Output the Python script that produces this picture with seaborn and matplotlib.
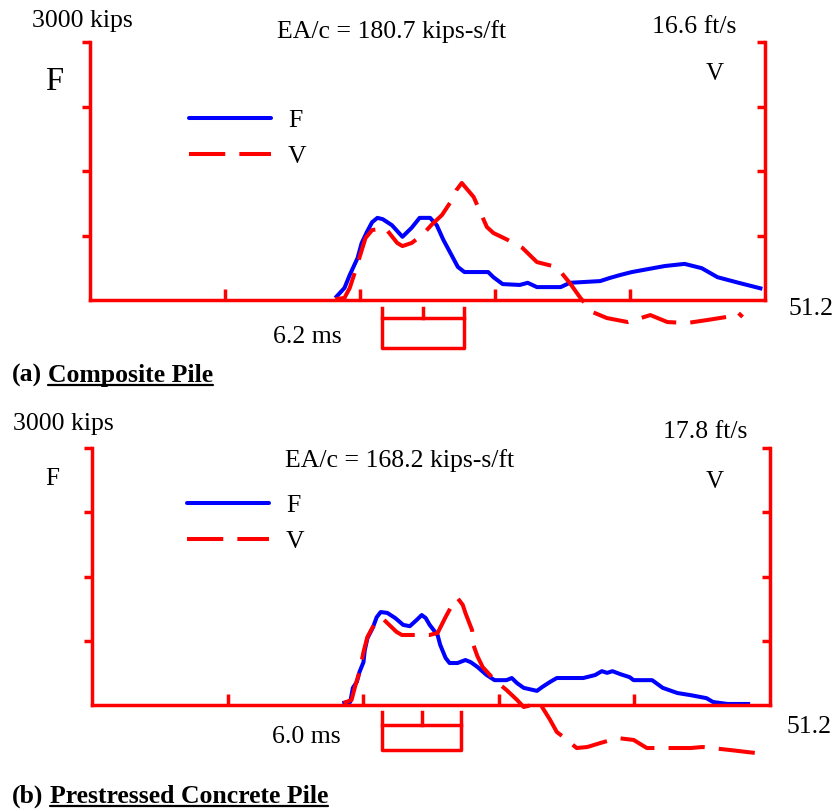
import matplotlib
matplotlib.use("Agg")
import matplotlib.pyplot as plt
import seaborn as sns
from matplotlib.lines import Line2D

# ---------------- data ----------------
T_END = 51.2                      # ms, full record length
F_TOP = 3000                      # kips, force axis top
x_tick_times = [10.24, 20.48, 30.72, 40.96]
f_tick_values = [750, 1500, 2250, 3000]

# (a) Composite pile
t_F_a = [18.6, 19.3, 19.7, 20.3, 20.6, 21.0, 21.4, 21.8, 22.2, 22.9, 23.7, 24.4, 25.0,
         25.8, 26.3, 26.8, 27.5, 27.9, 28.4, 30.2, 30.6, 31.3, 32.6, 33.2, 33.9, 35.7,
         36.4, 38.7, 39.4, 40.2, 41.1, 43.6, 45.1, 46.4, 47.6, 49.2, 51.0]
F_a = [23, 140, 290, 490, 660, 790, 905, 955, 940, 870, 735, 840, 955,
       955, 870, 700, 500, 385, 325, 325, 265, 185, 175, 200, 150, 150,
       200, 220, 255, 290, 325, 395, 420, 370, 265, 200, 130]
t_V_a = [18.6, 19.3, 19.7, 20.1, 20.5, 20.9, 21.4, 22.4, 23.3, 23.7, 24.4, 25.2, 25.9,
         26.7, 27.3, 27.8, 28.2, 29.1, 30.1, 30.6, 31.7, 32.8, 33.9, 35.4, 36.4, 37.2,
         38.1, 39.2, 40.8, 42.5, 43.8, 45.3, 46.8, 48.3, 49.1, 49.5]
V_a = [0.06, 0.13, 0.77, 1.80, 2.90, 3.99, 4.50, 4.63, 3.67, 3.47, 3.67, 4.18, 4.83,
       5.47, 6.24, 7.08, 7.53, 6.63, 4.70, 4.31, 3.86, 3.35, 2.44, 2.12, 1.09, 0.13,
       -0.77, -1.16, -1.42, -0.97, -1.42, -1.48, -1.29, -1.09, -0.77, -1.09]

# (b) Prestressed concrete pile
t_F_b = [18.9, 19.5, 19.7, 20.0, 20.2, 20.5, 20.6, 20.8, 21.2, 21.5, 21.8, 22.3, 22.9,
         23.5, 24.0, 24.5, 24.9, 25.2, 25.5, 26.1, 26.3, 26.7, 27.0, 27.6, 28.2, 28.6,
         29.1, 29.8, 30.4, 31.3, 31.7, 32.1, 32.6, 33.6, 34.0, 34.6, 35.1, 37.1, 38.0,
         38.5, 38.9, 39.3, 39.9, 40.6, 40.9, 42.3, 43.1, 44.2, 45.2, 46.4, 46.9, 48.0, 49.7]
F_b = [23, 35, 200, 270, 385, 500, 640, 780, 900, 1025, 1085, 1075, 1015,
       935, 920, 990, 1050, 1015, 935, 815, 700, 550, 490, 490, 525, 500,
       445, 350, 290, 290, 315, 255, 200, 165, 210, 270, 315, 315, 350,
       395, 375, 395, 360, 325, 290, 290, 200, 140, 115, 80, 35, 12, 12]
t_V_b = [19.0, 19.6, 19.9, 20.2, 20.5, 20.8, 21.2, 21.9, 23.0, 23.4, 25.5, 26.1, 26.7,
         27.2, 27.6, 28.0, 28.2, 28.7, 28.8, 29.1, 29.5, 30.4, 31.3, 32.1, 32.6, 33.8,
         34.6, 35.1, 35.6, 36.6, 37.4, 38.4, 39.7, 40.9, 41.9, 43.8, 45.2, 46.1, 48.2,
         49.5, 50.1]
V_b = [0.14, 0.35, 1.39, 2.29, 3.67, 4.71, 5.40, 6.03, 5.06, 4.85, 4.85, 4.99, 6.09,
       6.93, 7.41, 6.93, 6.37, 5.19, 4.16, 3.39, 2.63, 1.73, 1.04, 0.35, -0.14, 0.14,
       -1.04, -1.87, -2.22, -2.98, -2.91, -2.63, -2.29, -2.42, -2.98, -2.98, -2.98, -2.91,
       -3.12, -3.26, -3.32]

EA_c = [180.7, 168.2]             # kips-s/ft
V_top = [16.6, 17.8]              # ft/s
two_L_over_c = [6.2, 6.0]         # ms
bracket_start = [22.15, 21.9]     # ms
panel_tags = ["(a)", "(b)"]
panel_titles = ["Composite Pile", "Prestressed Concrete Pile"]
legend_labels = ["F", "V"]

# ---------------- style ----------------
sns.set_style("white")
plt.rcParams["font.family"] = ["Liberation Serif", "DejaVu Serif"]
plt.rcParams["text.color"] = "black"
plt.rcParams["legend.labelcolor"] = "black"

W, H = 840, 811
fig = plt.figure(figsize=(W / 100, H / 100), dpi=100)

RED = "#ff0000"
BLUE = "#0000ff"
LW = 2.9
SPW = 2.5
DASH = (0, (9, 3.5))
FS = 18.5


def fx(px):
    return px / W


def fy(py):
    return 1 - py / H


layouts = [
    dict(rect=(90, 42, 765, 300), kips=(32, 27), eac=(277, 38), vel=(652, 33),
         F=(45, 90, 23.5), V=(706, 80, 18), leg=(189, 109), ms=(273, 343),
         end=(788, 315), tag=(12, 382), title_x=48,
         by=(-0.031, -0.070, -0.186)),
    dict(rect=(92, 448, 770, 705), kips=(13, 430), eac=(285, 467), vel=(663, 438),
         F=(45, 485, 18), V=(706, 488, 18), leg=(187, 494), ms=(272, 743),
         end=(786, 733), tag=(12, 803), title_x=50,
         by=(-0.027, -0.078, -0.175)),
]

series = [(t_F_a, F_a, t_V_a, V_a), (t_F_b, F_b, t_V_b, V_b)]
title_texts = []

for i, (lay, (tF, F, tV, V)) in enumerate(zip(layouts, series)):
    x0, y0, x1, y1 = lay["rect"]
    ax = fig.add_axes([fx(x0), fy(y1), (x1 - x0) / W, (y1 - y0) / H])
    ax2 = ax.twinx()

    sns.lineplot(x=tF, y=F, ax=ax, color=BLUE, lw=LW, estimator=None, sort=False)
    sns.lineplot(x=tV, y=V, ax=ax2, color=RED, lw=LW, estimator=None, sort=False)
    for ln in ax.lines + ax2.lines:
        ln.set_clip_on(False)
        ln.set_solid_capstyle("butt")
    ax2.lines[0].set_linestyle(DASH)

    ax.set_xlim(0, T_END)
    ax.set_ylim(0, F_TOP)
    ax2.set_ylim(0, V_top[i])
    ax.set_xlabel("")
    ax.set_ylabel("")
    ax2.set_ylabel("")
    ax.patch.set_alpha(0)

    for s in ["top", "right"]:
        ax.spines[s].set_visible(False)
    for s in ["left", "bottom"]:
        ax.spines[s].set_color(RED)
        ax.spines[s].set_linewidth(SPW)
    for s in ["top", "left", "bottom"]:
        ax2.spines[s].set_visible(False)
    ax2.spines["right"].set_color(RED)
    ax2.spines["right"].set_linewidth(SPW)

    ax.set_xticks(x_tick_times)
    ax.set_yticks(f_tick_values)
    ax2.set_yticks([V_top[i] * v / F_TOP for v in f_tick_values])
    ax.tick_params(axis="x", direction="in", length=8, width=SPW, color=RED,
                   labelbottom=False, bottom=True)
    ax.tick_params(axis="y", direction="out", length=6, width=SPW, color=RED,
                   labelleft=False, left=True)
    ax2.tick_params(axis="y", direction="in", length=6, width=SPW, color=RED,
                    labelright=False, right=True)
    ax.grid(False)
    ax2.grid(False)

    # 2L/c bracket below the time axis
    b0 = bracket_start[i]
    b1 = b0 + two_L_over_c[i]
    bm = (b0 + b1) / 2
    ytop, ymid, ybot = lay["by"]
    tr = ax.get_xaxis_transform()
    bk = dict(color=RED, lw=SPW, transform=tr, clip_on=False, solid_capstyle="projecting")
    ax.plot([b0, b0, b1, b1], [ytop, ybot, ybot, ytop], **bk)
    ax.plot([b0, b1], [ymid, ymid], **bk)
    ax.plot([bm, bm], [ytop, ymid], **bk)

    # legend
    handles = [Line2D([], [], color=BLUE, lw=LW),
               Line2D([], [], color=RED, lw=LW, ls=DASH)]
    fig.legend(handles, legend_labels, loc="upper left",
               bbox_to_anchor=(fx(lay["leg"][0]), fy(lay["leg"][1])),
               frameon=False, fontsize=FS, handlelength=3.2, handletextpad=0.66,
               labelspacing=0.52, borderpad=0, borderaxespad=0, labelcolor="black")

    # texts
    tk = dict(fontsize=FS, va="baseline", color="black")
    fig.text(fx(lay["kips"][0]), fy(lay["kips"][1]), f"{F_TOP} kips", **tk)
    fig.text(fx(lay["eac"][0]), fy(lay["eac"][1]), f"EA/c = {EA_c[i]} kips-s/ft", **tk)
    fig.text(fx(lay["vel"][0]), fy(lay["vel"][1]), f"{V_top[i]} ft/s", **tk)
    fig.text(fx(lay["F"][0]), fy(lay["F"][1]), "F", fontsize=lay["F"][2], va="baseline", color="black")
    fig.text(fx(lay["V"][0]), fy(lay["V"][1]), "V", fontsize=lay["V"][2], va="baseline", color="black")
    fig.text(fx(lay["ms"][0]), fy(lay["ms"][1]), f"{two_L_over_c[i]} ms", **tk)
    fig.text(fx(lay["end"][0]), fy(lay["end"][1]), f"{T_END}", **tk)
    fig.text(fx(lay["tag"][0]), fy(lay["tag"][1]), panel_tags[i], fontweight="bold", **tk)
    tt = fig.text(fx(lay["title_x"]), fy(lay["tag"][1]), panel_titles[i],
                  fontweight="bold", **tk)
    title_texts.append((tt, lay["tag"][1]))

# underline the panel titles
fig.canvas.draw()
for tt, base in title_texts:
    bb = tt.get_window_extent()
    yline = fy(base + 3)
    fig.add_artist(Line2D([bb.x0 / W, bb.x1 / W], [yline, yline], color="black",
                          lw=1.6, transform=fig.transFigure))

fig.savefig("out.png", dpi=100, facecolor="white")
